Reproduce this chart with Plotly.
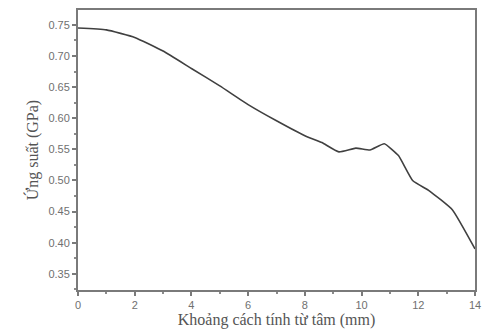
import plotly.graph_objects as go

distance_mm = [0, 1, 2, 3, 4, 5, 6, 7, 8, 8.6, 9.2, 9.8, 10.3, 10.8, 11.3, 11.8, 12.4, 13.2, 14]
stress_gpa = [0.745, 0.742, 0.730, 0.708, 0.680, 0.652, 0.622, 0.596, 0.572, 0.561, 0.546, 0.552,
              0.549, 0.559, 0.540, 0.500, 0.483, 0.453, 0.390]

x_title = "Khoảng cách tính từ tâm (mm)"
y_title = "Ứng suất (GPa)"

fig = go.Figure()
fig.add_trace(go.Scatter(x=distance_mm, y=stress_gpa, mode="lines",
                         line=dict(color="#404040", width=1.6, shape="spline", smoothing=0.4)))

axis_common = dict(showgrid=False, zeroline=False, showline=True, mirror=True, automargin=False,
                   linecolor="#7a7a7a", linewidth=2, ticks="outside", ticklen=4,
                   tickcolor="#7a7a7a", tickwidth=1.5,
                   tickfont=dict(family="Liberation Sans", size=11, color="#707070"),
                   minor=dict(ticks="outside", ticklen=2, tickcolor="#8a8a8a"))

fig.update_xaxes(range=[0, 14], tickvals=[0, 2, 4, 6, 8, 10, 12, 14],
                 minor_dtick=1,
                 title=dict(text=x_title, standoff=3,
                            font=dict(family="Liberation Serif", size=16, color="#555555")),
                 **axis_common)
fig.update_yaxes(range=[0.324, 0.774], tickvals=[0.35, 0.40, 0.45, 0.50, 0.55, 0.60, 0.65, 0.70, 0.75],
                 tickformat=".2f", minor_dtick=0.025,
                 title=dict(text=y_title, standoff=6,
                            font=dict(family="Liberation Serif", size=16, color="#555555")),
                 **axis_common)

fig.update_layout(width=488, height=329, margin=dict(l=78, r=13, t=10, b=39, autoexpand=False),
                  paper_bgcolor="white", plot_bgcolor="white", showlegend=False)

fig.write_html("out.html", config={"displayModeBar": False})

with open("out.html", "r", encoding="utf-8") as f:
    html = f.read()
html = html.replace("<body>", '<body style="margin:0;padding:0;overflow:hidden">', 1)
with open("out.html", "w", encoding="utf-8") as f:
    f.write(html)
